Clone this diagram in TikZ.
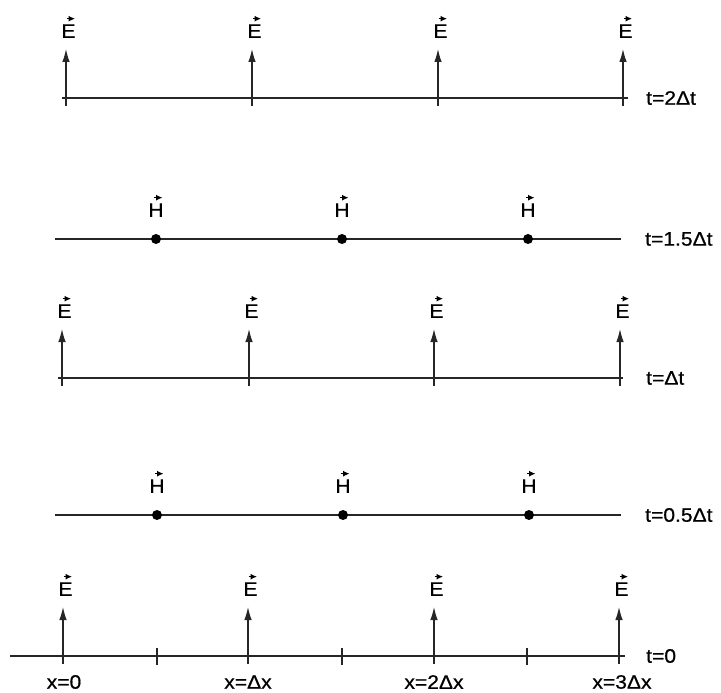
\documentclass[tikz,border=0pt]{standalone}
\usepackage{fontspec}
\setmainfont{Liberation Sans}[FakeStretch=1.08,FakeBold=0.7]
\usetikzlibrary{arrows.meta}
\begin{document}
\begin{tikzpicture}[x=1pt,y=-1pt,
  axis/.style={line width=1.2pt, draw=black!85},
  efield/.style={line width=1.2pt, draw=black!85, -{Latex[length=13pt,width=7.5pt]}},
  gridtick/.style={line width=1.2pt, draw=black!85},
  hdot/.style={circle, fill=black, inner sep=0pt, minimum size=10pt},
  lbl/.style={inner sep=0pt, font=\fontsize{19.5}{22}\selectfont},
  vecmark/.style={line width=1.1pt, -{Latex[length=6.5pt,width=6pt]}}
]
\useasboundingbox (0,0) rectangle (721,693);

% E-field rows: name / line y / line start / line end / label / arrow positions
\foreach \r/\y/\xa/\xb/\tl/\xs in {
    two/98/62/628/{t=2Δt}/{66,252,438,623},
    one/378/58/623/{t=Δt}/{62,249,434,620},
    zero/656/10/625/{t=0}/{63,248,434,619}}{
  \coordinate (L-\r) at (\xa,\y);
  \coordinate (R-\r) at (\xb,\y);
  \draw[axis] (L-\r) -- (R-\r);
  \node[lbl, anchor=west] (T-\r) at (646,\y) {\tl};
  \foreach \x [count=\i] in \xs {
    \coordinate (b-\r-\i) at (\x,\y+8);
    \coordinate (tip-\r-\i) at (\x,\y-49);
    \draw[efield] (b-\r-\i) -- (tip-\r-\i);
    \node[lbl, anchor=south] (E-\r-\i) at (\x+2.5,\y-60) {E};
    \draw[vecmark] ([xshift=-2pt,yshift=5.5pt]E-\r-\i.north) -- ([xshift=6.5pt,yshift=5.5pt]E-\r-\i.north);
  }
}

% H-field rows (half time steps, half grid cells)
\foreach \r/\y/\tl/\xs in {
    onehalf/239/{t=1.5Δt}/{156,342,528},
    half/515/{t=0.5Δt}/{157,343,529}}{
  \coordinate (L-\r) at (55,\y);
  \coordinate (R-\r) at (621,\y);
  \draw[axis] (L-\r) -- (R-\r);
  \node[lbl, anchor=west] (T-\r) at (645,\y) {\tl};
  \foreach \x [count=\i] in \xs {
    \node[hdot] (d-\r-\i) at (\x,\y) {};
    \node[lbl, anchor=south] (H-\r-\i) at (\x,\y-22) {H};
    \draw[vecmark] ([xshift=-2pt,yshift=5.5pt]H-\r-\i.north) -- ([xshift=6.5pt,yshift=5.5pt]H-\r-\i.north);
  }
}

% half-cell ticks on the spatial axis
\foreach \x [count=\i] in {157,342,527}{
  \coordinate (ta-\i) at (\x,648);
  \coordinate (tb-\i) at (\x,665);
  \draw[gridtick] (ta-\i) -- (tb-\i);
}

% spatial positions
\foreach \x/\t [count=\i] in {64/{x=0},248/{x=Δx},434/{x=2Δx},622/{x=3Δx}}{
  \node[lbl] (X-\i) at (\x,682) {\t};
}
\end{tikzpicture}
\end{document}
